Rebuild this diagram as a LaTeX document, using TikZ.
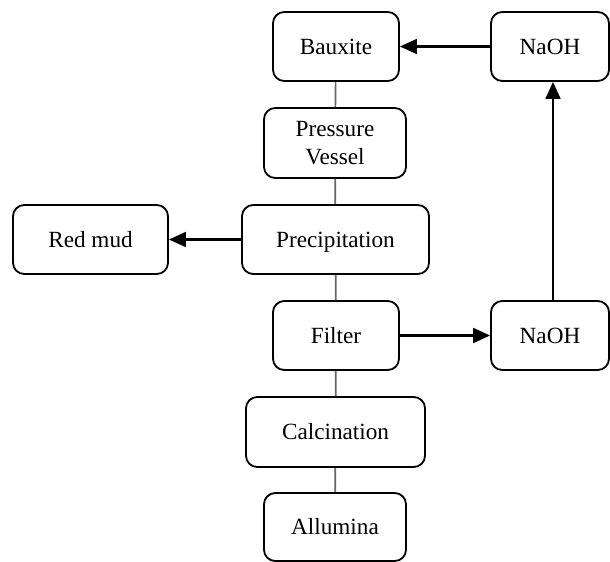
\documentclass[tikz,border=0pt]{standalone}
\usepackage{fontspec}
\setmainfont{Liberation Serif}
\usetikzlibrary{arrows.meta}
\begin{document}
\begin{tikzpicture}[x=0.025cm, y=-0.025cm, >={Triangle[length=12pt,width=10.5pt]},
	box/.style={draw, line width=1.3pt, rounded corners=8pt, inner sep=0pt, align=center, font=\fontsize{16.5}{20.5}\selectfont},
	oneline/.style={box, text height=13.5pt, text depth=2.6pt},
	link/.style={draw=black!60, line width=1.2pt},
	flow/.style={->, line width=1.6pt}]
			\useasboundingbox (0,0) rectangle (610,561);
			\node[oneline, minimum width=126*0.025cm, minimum height=69*0.025cm] (bauxite) at (336,46.5) {Bauxite};
			\node[oneline, minimum width=118*0.025cm, minimum height=69*0.025cm] (naohtop) at (550,46.5) {NaOH};
			\node[box, minimum width=142*0.025cm, minimum height=70*0.025cm] (vessel) at (335,143) {Pressure\\Vessel};
			\node[oneline, minimum width=155*0.025cm, minimum height=69*0.025cm] (redmud) at (90.5,239.5) {Red mud};
			\node[oneline, minimum width=187*0.025cm, minimum height=69*0.025cm] (precip) at (335.5,239.5) {Precipitation};
			\node[oneline, minimum width=126*0.025cm, minimum height=69*0.025cm] (filter) at (336,335.5) {Filter};
			\node[oneline, minimum width=118*0.025cm, minimum height=69*0.025cm] (naohbot) at (550,335.5) {NaOH};
			\node[oneline, minimum width=179*0.025cm, minimum height=70*0.025cm] (calc) at (335.5,432) {Calcination};
			\node[oneline, minimum width=142*0.025cm, minimum height=68*0.025cm] (allumina) at (335,527) {Allumina};
			% main line
			\draw[link] (bauxite) -- (vessel);
			\draw[link] (vessel) -- (precip);
			\draw[link] (precip) -- (filter);
			\draw[link] (filter) -- (calc);
			\draw[link] (calc) -- (allumina);
			% side streams
			\draw[flow] (naohtop) -- (bauxite);
			\draw[flow] (precip) -- (redmud);
			\draw[flow] (filter) -- (naohbot);
			\draw[flow] (naohbot.north -| 553,0) -- (naohtop.south -| 553,0);
			\end{tikzpicture}
\end{document}
